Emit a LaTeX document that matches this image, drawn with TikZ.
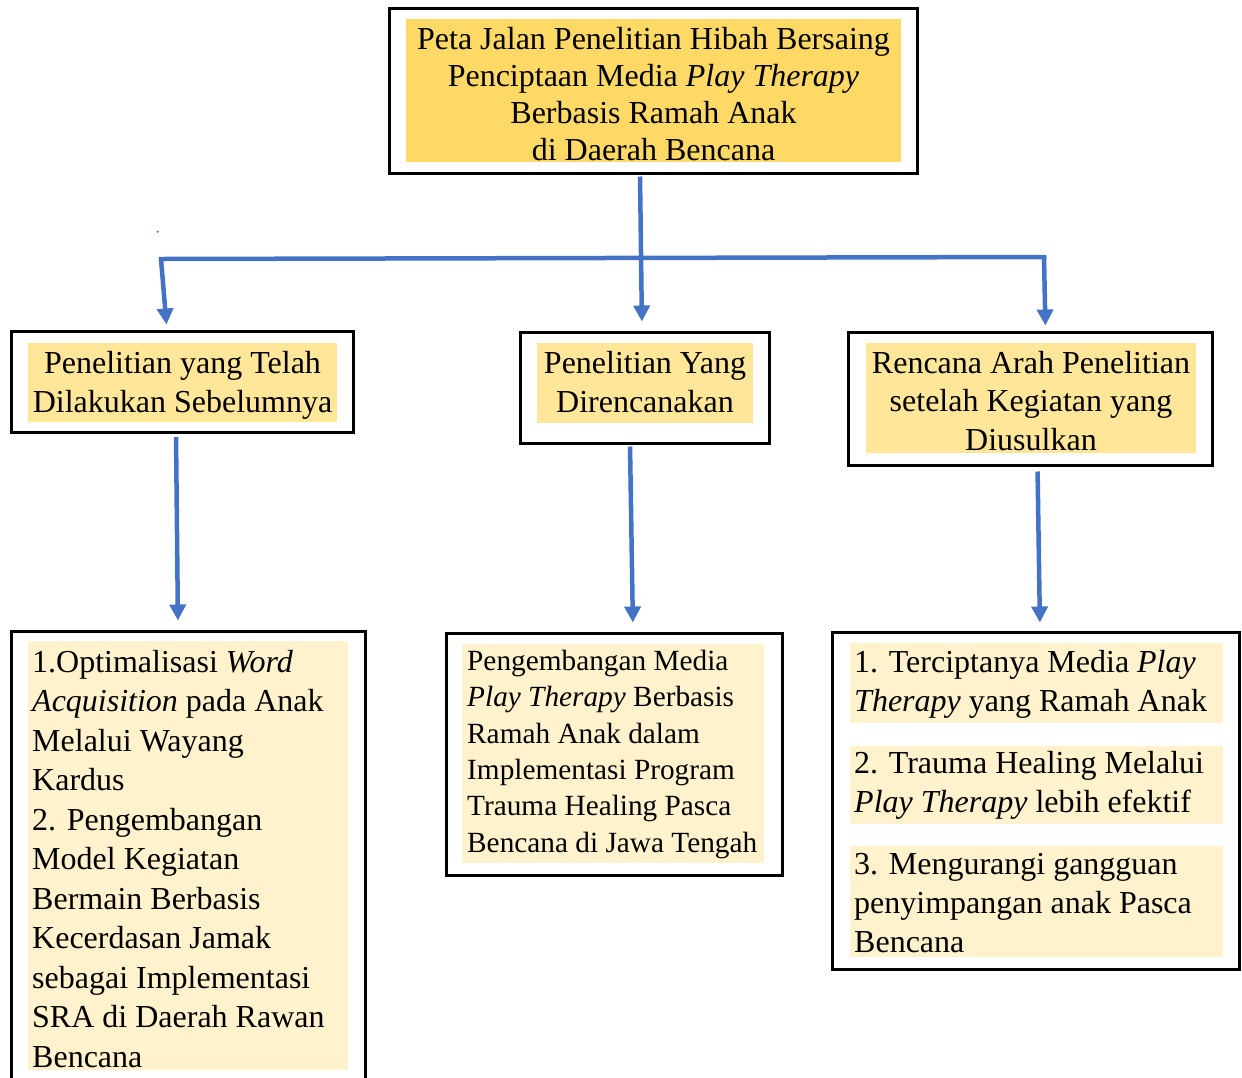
\documentclass[tikz,border=0pt]{standalone}
\usepackage{fontspec}
\setmainfont{Liberation Serif}
\usetikzlibrary{arrows.meta}
\definecolor{linkblue}{HTML}{4472C4}
\definecolor{goldA}{HTML}{FFD966}
\definecolor{goldB}{HTML}{FFE699}
\definecolor{goldC}{HTML}{FFF2CC}
% zero-width rule that fixes the top of a text block 24pt above its first baseline
\newcommand\tallrule{\rule{0pt}{24pt}}
\begin{document}
\begin{tikzpicture}[x=1pt,y=-1pt,
  frame/.style={draw=black, line width=3pt, rectangle, inner sep=0pt},
  link/.style={draw=linkblue, line width=4.5pt},
  arr/.style={link, -{Triangle[length=16pt,width=16pt]}},
  ctext/.style={inner sep=0pt, anchor=north, align=center},
  ltext/.style={inner sep=0pt, anchor=north west, align=left},
  fsA/.style={font=\fontsize{32}{37}\selectfont},
  fsB/.style={font=\fontsize{32}{39}\selectfont},
  fsC/.style={font=\fontsize{32}{39.5}\selectfont},
  fsD/.style={font=\fontsize{29.3}{36.4}\selectfont}
]
\clip (0,0) rectangle (1242,1077);

% shaded text backgrounds
\fill[goldA] (406,19) rectangle (901,162);
\fill[goldB] (28,343) rectangle (337,421.7);
\fill[goldB] (537,343) rectangle (753,423);
\fill[goldB] (866,343) rectangle (1196,453);
\fill[goldC] (28,641) rectangle (348,1070);
\fill[goldC] (462,644) rectangle (764,863);
\fill[goldC] (850,643) rectangle (1223,723);
\fill[goldC] (850,746) rectangle (1223,824);
\fill[goldC] (850,846) rectangle (1223,957);

% frames
\node[frame, minimum width=528pt, minimum height=165pt] (top) at (653,90.5) {};
\node[frame, minimum width=342pt, minimum height=100.7pt] (lm) at (182,382.3) {};
\node[frame, minimum width=249pt, minimum height=111pt] (mm) at (644.5,387.5) {};
\node[frame, minimum width=364pt, minimum height=133pt] (rm) at (1030,398.5) {};
\node[frame, minimum width=354pt, minimum height=459pt] (bl) at (188,860.5) {};
\node[frame, minimum width=336pt, minimum height=242pt] (bm) at (614,754) {};
\node[frame, minimum width=407pt, minimum height=337pt] (br) at (1035.5,800.5) {};

% texts
\node[ctext, fsA] (tTop) at (653.5,25) {\tallrule Peta Jalan Penelitian Hibah Bersaing\\Penciptaan Media \textit{Play Therapy}\\Berbasis Ramah Anak\\di Daerah Bencana};
\node[ctext, fsB] (tLM) at (182.5,349) {\tallrule Penelitian yang Telah\\Dilakukan Sebelumnya};
\node[ctext, fsB] (tMM) at (645,349) {\tallrule Penelitian Yang\\Direncanakan};
\node[ctext, font=\fontsize{32}{38.5}\selectfont] (tRM) at (1031,349) {\tallrule Rencana Arah Penelitian\\setelah Kegiatan yang\\Diusulkan};
\node[ltext, fsC] (tBL) at (32,648) {\tallrule 1.Optimalisasi \textit{Word}\\\textit{Acquisition} pada Anak\\Melalui Wayang\\Kardus\\2. Pengembangan\\Model Kegiatan\\Bermain Berbasis\\Kecerdasan Jamak\\sebagai Implementasi\\SRA di Daerah Rawan\\Bencana};
\node[ltext, fsD] (tBM) at (467,646) {\tallrule Pengembangan Media\\\textit{Play Therapy} Berbasis\\Ramah Anak dalam\\Implementasi Program\\Trauma Healing Pasca\\Bencana di Jawa Tengah};
\node[ltext, fsB] (tBR1) at (854,648) {\tallrule 1. Terciptanya Media \textit{Play}\\\textit{Therapy} yang Ramah Anak};
\node[ltext, fsB] (tBR2) at (854,749) {\tallrule 2. Trauma Healing Melalui\\\textit{Play Therapy} lebih efektif};
\node[ltext, fsB] (tBR3) at (854,850) {\tallrule 3. Mengurangi gangguan\\penyimpangan anak Pasca\\Bencana};

% connectors
\coordinate (jl) at (161,259);
\coordinate (jr) at (1044,257);
\coordinate (speck) at (157.7,231.7);
\fill[linkblue] (speck) circle (1.2pt);

\draw[arr, shorten <=2pt, shorten >=9pt] ([xshift=-13pt]top.south) -- ([xshift=-2.5pt]mm.north);
\draw[link, line cap=rect] (jl) -- (jr);
\draw[arr, shorten >=6pt] (jl) -- ([xshift=-15pt]lm.north);
\draw[arr, shorten >=5pt] (jr) -- ([xshift=15.5pt]rm.north);

\draw[arr, shorten <=3pt, shorten >=9pt] ([xshift=-6pt]lm.south) -- ([xshift=-10pt]bl.north);
\draw[arr, shorten <=2pt, shorten >=9pt] ([xshift=-14.5pt]mm.south) -- ([xshift=19pt]bm.north);
\draw[arr, shorten <=5pt, shorten >=8pt] ([xshift=7.5pt]rm.south) -- ([xshift=4.5pt]br.north);
\end{tikzpicture}
\end{document}
